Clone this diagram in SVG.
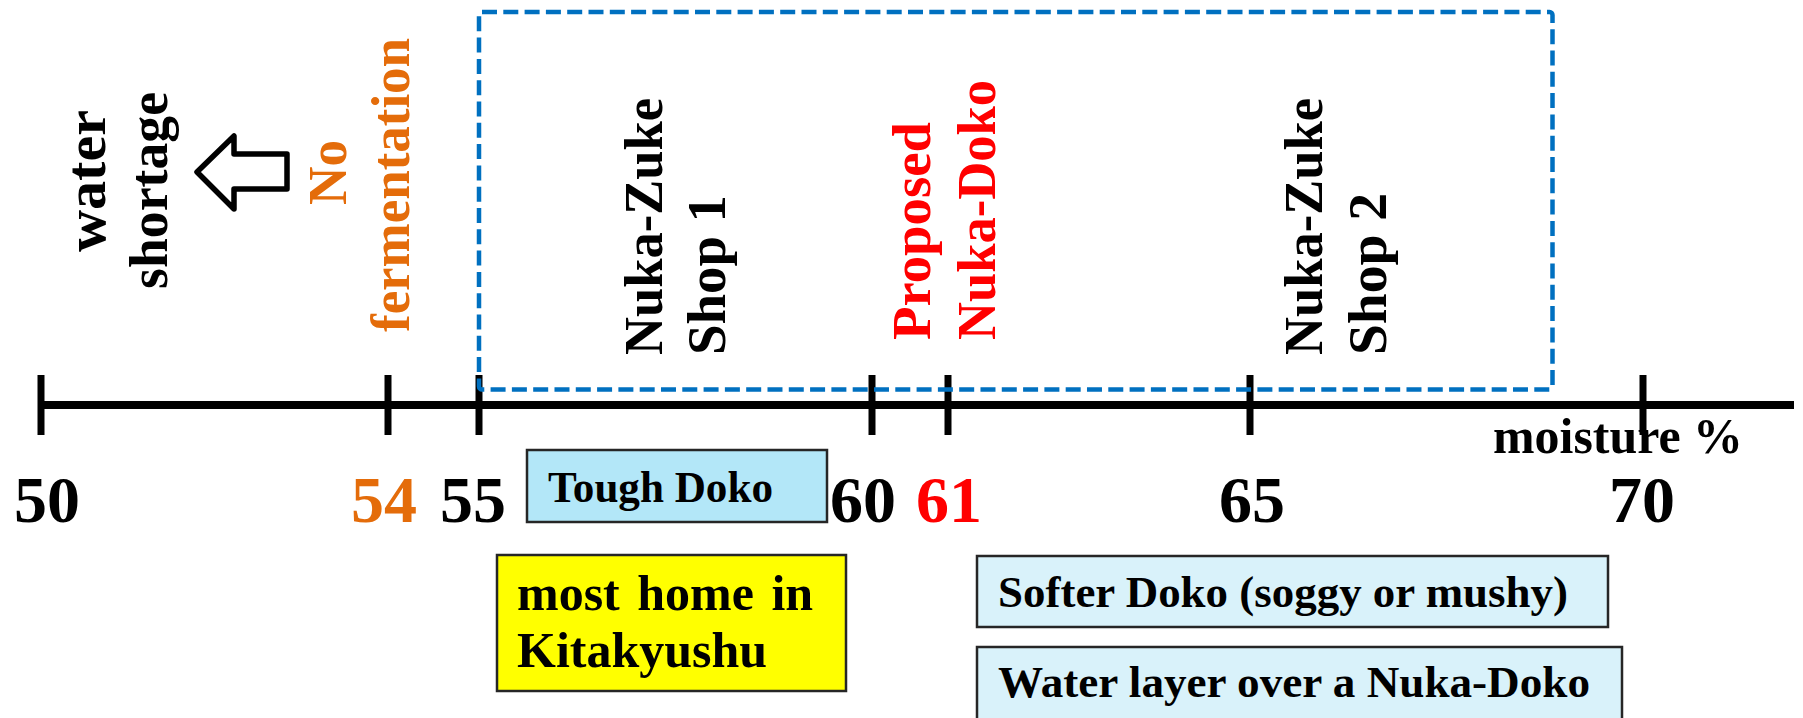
<svg xmlns="http://www.w3.org/2000/svg" width="1803" height="718" viewBox="0 0 1803 718">
<style>
text{font-family:"Liberation Serif","Times New Roman",serif;font-weight:bold;fill:#000}
.num{font-size:66px;text-anchor:middle}
.rot{font-size:54px}
.box{font-size:45px}
.orange{fill:#E46C0A}
.red{fill:#FF0000}
.tick{stroke:#000;stroke-width:7}
.note{stroke:#262626;stroke-width:2.5}
</style>
<rect width="1803" height="718" fill="#fff"/>
<g id="axis">
<line x1="41" y1="405" x2="1794" y2="405" stroke="#000" stroke-width="8"/>
<line class="tick" x1="41" y1="375" x2="41" y2="435"/>
<line class="tick" x1="388" y1="375" x2="388" y2="435"/>
<line class="tick" x1="479" y1="375" x2="479" y2="435"/>
<line class="tick" x1="872" y1="375" x2="872" y2="435"/>
<line class="tick" x1="948" y1="375" x2="948" y2="435"/>
<line class="tick" x1="1250" y1="375" x2="1250" y2="435"/>
<line class="tick" x1="1643" y1="375" x2="1643" y2="435"/>
</g>
<g id="tick-labels">
<text class="num" x="47" y="522">50</text>
<text class="num orange" x="384" y="522">54</text>
<text class="num" x="473" y="522">55</text>
<text class="num" x="863" y="522">60</text>
<text class="num red" x="949" y="522">61</text>
<text class="num" x="1252" y="522">65</text>
<text class="num" x="1642" y="522">70</text>
<text x="1493" y="453" font-size="50" textLength="250" lengthAdjust="spacingAndGlyphs">moisture %</text>
</g>
<g id="range-box">
<rect x="479" y="12" width="1073.5" height="377.5" rx="3" fill="none" stroke="#0070C0" stroke-width="4.5" stroke-dasharray="15 6.3"/>
</g>
<g id="water-shortage">
<g transform="rotate(-90)">
<text x="-252" y="105" font-size="56" textLength="142" lengthAdjust="spacingAndGlyphs">water</text>
<text x="-289" y="167" font-size="55" textLength="197" lengthAdjust="spacingAndGlyphs">shortage</text>
</g>
<path d="M197,172 L234,136 L234,154 L287,154 L287,189 L234,189 L234,209 Z" fill="#fff" stroke="#000" stroke-width="5.5" stroke-linejoin="round"/>
</g>
<g id="no-fermentation">
<g transform="rotate(-90)">
<text class="rot orange" x="-205" y="346" textLength="65" lengthAdjust="spacingAndGlyphs">No</text>
<text class="rot orange" x="-332" y="409" textLength="294" lengthAdjust="spacingAndGlyphs">fermentation</text>
</g>
</g>
<g id="shop1">
<g transform="rotate(-90)">
<text class="rot" x="-355" y="662" textLength="257" lengthAdjust="spacingAndGlyphs">Nuka-Zuke</text>
<text class="rot" x="-355" y="725" textLength="160" lengthAdjust="spacingAndGlyphs">Shop 1</text>
</g>
</g>
<g id="proposed">
<g transform="rotate(-90)">
<text class="rot red" x="-340" y="930" textLength="218" lengthAdjust="spacingAndGlyphs">Proposed</text>
<text class="rot red" x="-340" y="995" textLength="260" lengthAdjust="spacingAndGlyphs">Nuka-Doko</text>
</g>
</g>
<g id="shop2">
<g transform="rotate(-90)">
<text class="rot" x="-355" y="1322" textLength="257" lengthAdjust="spacingAndGlyphs">Nuka-Zuke</text>
<text class="rot" x="-355" y="1386" textLength="162" lengthAdjust="spacingAndGlyphs">Shop 2</text>
</g>
</g>
<g id="tough-doko">
<rect class="note" x="527" y="450" width="300" height="72" fill="#B3E7F8"/>
<text class="box" x="548" y="502" font-size="44" textLength="225" lengthAdjust="spacingAndGlyphs">Tough Doko</text>
</g>
<g id="most-home">
<rect class="note" x="497" y="555" width="349" height="136" fill="#FFFF00"/>
<text x="517" y="610" font-size="50" word-spacing="5">most home in</text>
<text x="517" y="667" font-size="50">Kitakyushu</text>
</g>
<g id="softer-doko">
<rect class="note" x="977" y="556" width="631" height="71" fill="#D9F2FA"/>
<text class="box" x="998" y="607" textLength="570" lengthAdjust="spacingAndGlyphs">Softer Doko (soggy or mushy)</text>
</g>
<g id="water-layer">
<rect class="note" x="977" y="647" width="645" height="80" fill="#D9F2FA"/>
<text class="box" x="998" y="697" textLength="592" lengthAdjust="spacingAndGlyphs">Water layer over a Nuka-Doko</text>
</g>
</svg>
